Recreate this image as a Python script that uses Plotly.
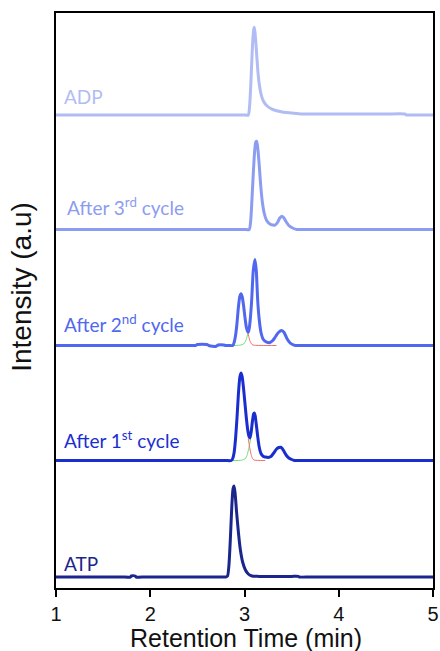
import plotly.graph_objects as go

# Chromatogram traces: retention time (min) and detector intensity (a.u.)
atp_t = [1.00, 1.50, 1.70, 1.79, 1.80, 1.84, 1.85, 1.95, 2.50, 2.74, 2.80, 2.82, 2.835, 2.85,
         2.865, 2.878, 2.889, 2.90, 2.915, 2.935, 2.955, 2.98, 3.01, 3.04, 3.08, 3.15, 3.30,
         3.50, 3.57, 3.58, 3.70, 4.80, 5.00]
atp_i = [0, 0, 0, 0, 1, 1, 0, 0, 0, 0, 0, 1, 12, 38, 70, 88, 91, 84, 66, 45, 28, 15, 7, 3, 1,
         0.6, 0.6, 0.6, 0.6, 0, 0, 0, 0]

c1_t = [1.00, 2.00, 2.70, 2.80, 2.86, 2.875, 2.89, 2.905, 2.92, 2.935, 2.95, 2.963, 2.975,
        2.99, 3.005, 3.02, 3.035, 3.048, 3.058, 3.07, 3.085, 3.096, 3.104, 3.113, 3.125, 3.14,
        3.155, 3.175, 3.20, 3.22, 3.25, 3.28, 3.31, 3.34, 3.365, 3.384, 3.40, 3.42, 3.445,
        3.47, 3.50, 3.53, 3.60, 4.00, 5.00]
c1_i = [0, 0, 0, 0, 0, 2, 8, 22, 42, 66, 83, 87.6, 84, 72, 57, 42, 30, 24, 22.6, 28, 40, 46.5,
        47.6, 45, 36, 24, 14, 7, 4, 3.5, 3, 4, 7.5, 11.5, 13, 13.3, 12, 9, 5, 2.5, 1, 0, 0, 0, 0]

c2_t = [1.00, 2.00, 2.40, 2.48, 2.50, 2.60, 2.62, 2.66, 2.70, 2.72, 2.78, 2.80, 2.84, 2.875,
        2.89, 2.905, 2.92, 2.935, 2.95, 2.963, 2.975, 2.99, 3.005, 3.02, 3.033, 3.041, 3.05,
        3.06, 3.076, 3.093, 3.111, 3.125, 3.14, 3.155, 3.175, 3.20, 3.236, 3.27, 3.30, 3.33,
        3.36, 3.394, 3.42, 3.45, 3.48, 3.51, 3.54, 3.62, 4.00, 5.00]
c2_i = [0, 0, 0, 0, 1, 1, 0, -0.8, -0.8, 0.5, 0.5, 0, 0, 0, 3, 10, 22, 38, 49, 51.7, 49, 40,
        28, 18, 14, 13.3, 17, 25, 45, 75, 86, 75, 45, 27, 13, 6, 3.3, 3, 5, 9, 13, 15, 13, 7,
        3, 1, 0, 0, 0, 0]

c3_t = [1.00, 2.00, 2.90, 3.00, 3.05, 3.065, 3.078, 3.09, 3.105, 3.118, 3.129, 3.14, 3.155,
        3.172, 3.19, 3.21, 3.235, 3.27, 3.30, 3.324, 3.35, 3.375, 3.395, 3.415, 3.44, 3.47,
        3.51, 3.555, 3.62, 4.00, 5.00]
c3_i = [0, 0, 0, 0, 0, 8, 28, 50, 75, 87, 88.3, 82, 66, 44, 27, 16, 9, 5.5, 4.5, 4.3, 7, 11.5,
        13.3, 12, 8, 4, 1.5, 0, 0, 0, 0]

adp_t = [1.00, 2.00, 2.90, 3.00, 3.04, 3.055, 3.069, 3.085, 3.097, 3.104, 3.112, 3.125, 3.14,
         3.155, 3.175, 3.20, 3.24, 3.30, 3.40, 3.50, 3.61, 3.80, 4.50, 4.70, 4.72, 4.80, 5.00]
adp_i = [0, 0, 0, 0, 0, 10, 35, 70, 85, 87.7, 82, 66, 46, 32, 21, 14, 9, 5.5, 3, 2, 1, 1, 1,
         1, 0, 0, 0]

# Deconvolution fit tails around the overlapping peaks
c1_fit_a_t = [2.86, 2.97, 3.01, 3.03, 3.045, 3.06, 3.075]
c1_fit_a_i = [0, 0.3, 2, 6, 12, 19, 28]
c1_fit_b_t = [3.04, 3.055, 3.07, 3.085, 3.10, 3.22]
c1_fit_b_i = [22, 13, 6, 2, 0.5, 0]
c2_fit_a_t = [2.84, 2.95, 2.99, 3.01, 3.025, 3.04, 3.05]
c2_fit_a_i = [0, 0.3, 1.5, 4, 8, 14, 19]
c2_fit_b_t = [3.03, 3.045, 3.06, 3.08, 3.10, 3.20, 3.34]
c2_fit_b_i = [15, 9, 4, 1, 0.3, 0, 0]

labels = ["ATP", "After 1<sup>st</sup> cycle", "After 2<sup>nd</sup> cycle",
          "After 3<sup>rd</sup> cycle", "ADP"]
x_ticks = [1, 2, 3, 4, 5]

# Stacking and styling
offsets = [11, 127.5, 242.5, 358.5, 473]
colors = ["#1b268c", "#1a2ed0", "#5068ef", "#8c9cf1", "#b1bcf4"]
label_x = [1.06, 1.06, 1.06, 1.10, 1.066]
label_dy = [14, 21, 22.5, 23, 19]

series = [(atp_t, atp_i), (c1_t, c1_i), (c2_t, c2_i), (c3_t, c3_i), (adp_t, adp_i)]
fits = [(1, c1_fit_a_t, c1_fit_a_i, "#6fdc6f"), (1, c1_fit_b_t, c1_fit_b_i, "#f07070"),
        (2, c2_fit_a_t, c2_fit_a_i, "#6fdc6f"), (2, c2_fit_b_t, c2_fit_b_i, "#f07070")]

fig = go.Figure()

for k, ft, fi, col in fits:
    fig.add_trace(go.Scatter(
        x=ft, y=[v + offsets[k] for v in fi], mode="lines",
        line=dict(color=col, width=1, shape="spline", smoothing=0.6),
        hoverinfo="skip", showlegend=False))

for (t, i), off, col in zip(series, offsets, colors):
    fig.add_trace(go.Scatter(
        x=t, y=[v + off for v in i], mode="lines",
        line=dict(color=col, width=3, shape="spline", smoothing=0.6),
        showlegend=False))

for lab, lx, off, dy, col in zip(labels, label_x, offsets, label_dy, colors):
    fig.add_annotation(x=lx, y=off + dy, xref="x", yref="y", text=lab, showarrow=False,
                       xanchor="left", yanchor="middle",
                       font=dict(family="Lato", size=19, color=col))

fig.add_annotation(x=0.505, y=-0.087, xref="paper", yref="paper",
                   text="Retention Time (min)", showarrow=False,
                   xanchor="center", yanchor="middle",
                   font=dict(family="Liberation Sans, Arial", size=25, color="#111111"))
fig.add_annotation(x=-0.09, y=0.524, xref="paper", yref="paper",
                   text="Intensity (a.u)", showarrow=False, textangle=-90,
                   xanchor="center", yanchor="middle",
                   font=dict(family="Liberation Sans, Arial", size=28, color="#111111"))

fig.update_layout(
    width=440, height=651,
    margin=dict(l=56, r=7, t=13, b=63, autoexpand=False),
    paper_bgcolor="white", plot_bgcolor="white",
    xaxis=dict(range=[1, 5], tickvals=x_ticks, ticktext=[str(v) for v in x_ticks],
               ticks="outside", ticklen=7, tickwidth=2, tickcolor="black",
               showline=True, linewidth=2, linecolor="black", mirror=True,
               showgrid=False, zeroline=False, automargin=False,
               ticklabeloverflow="allow",
               tickfont=dict(family="Liberation Sans, Arial", size=20, color="#111111")),
    yaxis=dict(range=[0, 575], showticklabels=False, ticks="",
               showline=True, linewidth=2, linecolor="black", mirror=True,
               showgrid=False, zeroline=False, automargin=False),
)

fig.write_html("out.html")
